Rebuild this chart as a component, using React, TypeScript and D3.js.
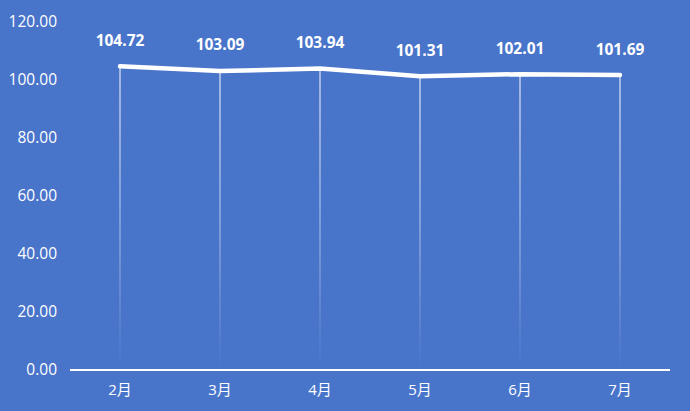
import React from "react";
import * as d3 from "d3";

const categories = ["2月", "3月", "4月", "5月", "6月", "7月"];
const values = [104.72, 103.09, 103.94, 101.31, 102.01, 101.69];
const yTicks = [0, 20, 40, 60, 80, 100, 120];

export default function App() {
  const W = 690, H = 411;
  const left = 70, right = 670, top = 22, bottom = 370;
  const x = d3.scaleBand<string>().domain(categories).range([left, right]);
  const y = d3.scaleLinear().domain([0, 120]).range([bottom, top]);
  const cx = (c: string) => (x(c) as number) + x.bandwidth() / 2;
  const line = d3.line<number>().x((_, i) => cx(categories[i])).y((v) => y(v));
  const font = "'Open Sans', 'Noto Sans', sans-serif";
  const cjk = "'Open Sans', 'Noto Sans CJK SC', sans-serif";
  return (
    <svg width={W} height={H} style={{ position: "absolute", left: 0, top: 0, display: "block" }}>
      <defs>
        <linearGradient id="drop" x1="0" y1="0" x2="0" y2="1">
          <stop offset="0" stopColor="#fff" stopOpacity={1} />
          <stop offset="0.5" stopColor="#fff" stopOpacity={0.6} />
          <stop offset="1" stopColor="#fff" stopOpacity={0} />
        </linearGradient>
      </defs>
      <rect x={0} y={0} width={W} height={H} fill="#4874CA" />
      {yTicks.map((t) => (
        <text key={t} x={57} y={y(t) - 0.5} dy="0.35em" textAnchor="end" fill="#fff" fontSize={15.5} fontFamily={font}>
          {t.toFixed(2)}
        </text>
      ))}
      {values.map((v, i) => (
        <rect key={i} x={cx(categories[i]) - 0.5} y={y(v)} width={1} height={bottom - y(v)} fill="url(#drop)" />
      ))}
      <line x1={left} x2={right} y1={bottom} y2={bottom} stroke="#fff" strokeWidth={2} />
      <path d={line(values) || ""} fill="none" stroke="#fff" strokeWidth={4.5} strokeLinecap="round" strokeLinejoin="round" />
      {values.map((v, i) => (
        <text key={i} x={cx(categories[i])} y={y(v) - 26} dy="0.35em" textAnchor="middle" fill="#fff" fontSize={15.5} fontWeight="bold" fontFamily={font}>
          {v.toFixed(2)}
        </text>
      ))}
      {categories.map((c) => (
        <text key={c} x={cx(c)} y={390} dy="0.35em" textAnchor="middle" fill="#fff" fontSize={15} fontFamily={cjk}>
          {c}
        </text>
      ))}
    </svg>
  );
}
